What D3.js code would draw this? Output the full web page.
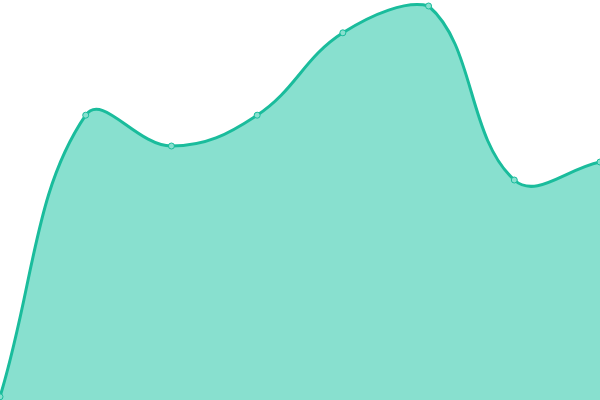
<!DOCTYPE html>
<html>
<head>
<meta charset="utf-8">
<script src="https://cdn.jsdelivr.net/npm/d3@7"></script>
<style>
  html, body { margin: 0; padding: 0; background: #fff; }
  svg { display: block; }
</style>
</head>
<body>
<div id="chart-area"></div>
<script>
// data
var labels = ['1', '2', '3', '4', '5', '6', '7', '8'];
var values = [0.8, 71.2, 63.5, 71.2, 91.8, 98.5, 55, 59.5];

var svgWidth = 600;
var svgHeight = 400;

var svg = d3.select('#chart-area')
            .append('svg')
            .attr('width', svgWidth)
            .attr('height', svgHeight);

var xScale = d3.scalePoint()
               .domain(labels)
               .range([0, svgWidth]);

var yScale = d3.scaleLinear()
               .domain([0, 100])
               .range([svgHeight, 0]);

var data = labels.map(function(l, i) { return {label: l, value: values[i]}; });

// tension spline, control points weighted by segment length and kept inside the plot
function tensionCurve(t) {
    return function(context) {
        var c = {
            _line: NaN,
            areaStart: function() { this._line = 0; },
            areaEnd: function() { this._line = NaN; },
            lineStart: function() { this._pts = []; },
            point: function(x, y) { this._pts.push([+x, +y]); },
            lineEnd: function() {
                var p = this._pts, n = p.length;
                if (n) {
                    if (this._line) context.lineTo(p[0][0], p[0][1]);
                    else context.moveTo(p[0][0], p[0][1]);
                    var cps = p.map(function(cur, i) {
                        var prev = p[i - 1] || cur, next = p[i + 1] || cur;
                        var d01 = Math.hypot(cur[0] - prev[0], cur[1] - prev[1]);
                        var d12 = Math.hypot(next[0] - cur[0], next[1] - cur[1]);
                        var s01 = d01 / (d01 + d12), s12 = d12 / (d01 + d12);
                        if (isNaN(s01)) s01 = 0;
                        if (isNaN(s12)) s12 = 0;
                        var fa = t * s01, fb = t * s12;
                        var dx = next[0] - prev[0], dy = next[1] - prev[1];
                        return {
                            a: clamp([cur[0] - fa * dx, cur[1] - fa * dy]),
                            b: clamp([cur[0] + fb * dx, cur[1] + fb * dy])
                        };
                    });
                    for (var i = 0; i < n - 1; i++) {
                        context.bezierCurveTo(cps[i].b[0], cps[i].b[1],
                                              cps[i + 1].a[0], cps[i + 1].a[1],
                                              p[i + 1][0], p[i + 1][1]);
                    }
                }
                if (this._line === 1) context.closePath();
                this._line = 1 - this._line;
            }
        };
        return c;
    };
}

function clamp(pt) {
    return [Math.max(0, Math.min(svgWidth, pt[0])), Math.max(0, Math.min(svgHeight, pt[1]))];
}

var curve = tensionCurve(0.4);

var area = d3.area()
             .x(function(d) { return xScale(d.label); })
             .y0(yScale(0))
             .y1(function(d) { return yScale(d.value); })
             .curve(curve);

var line = d3.line()
             .x(function(d) { return xScale(d.label); })
             .y(function(d) { return yScale(d.value); })
             .curve(curve);

svg.append('path')
   .datum(data)
   .attr('d', area)
   .attr('fill', '#88e0cf');

svg.append('path')
   .datum(data)
   .attr('d', line)
   .attr('fill', 'none')
   .attr('stroke', '#1abc9c')
   .attr('stroke-width', 3);

svg.selectAll('circle')
   .data(data)
   .enter()
   .append('circle')
   .attr('cx', function(d) { return xScale(d.label); })
   .attr('cy', function(d) { return yScale(d.value); })
   .attr('r', 3)
   .attr('fill', '#88e0cf')
   .attr('stroke', '#1abc9c')
   .attr('stroke-width', 1);
</script>
</body>
</html>
